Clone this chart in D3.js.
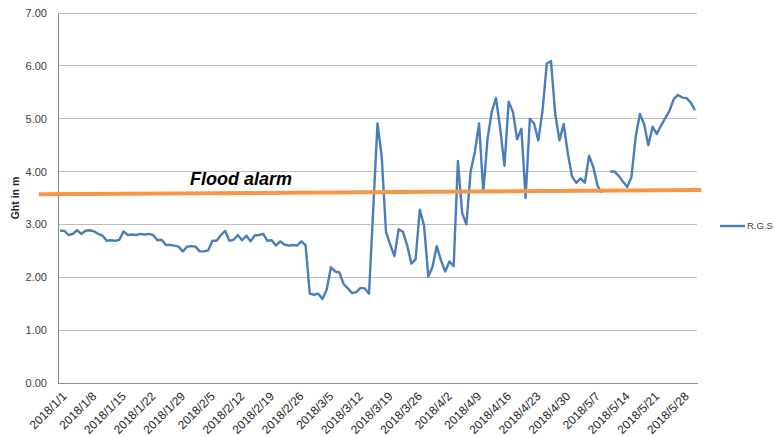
<!DOCTYPE html>
<html>
<head>
<meta charset="utf-8">
<script src="https://cdn.jsdelivr.net/npm/d3@7"></script>
<style>
  body { margin: 0; background: #ffffff; }
  svg { display: block; }
</style>
</head>
<body>
<svg id="chart" width="775" height="437"></svg>
<script>
// Daily river gauge readings (m), 1 Jan – 31 May 2018; null = no reading
const firstDay = "2018-01-01";
const lastDay = "2018-05-31";
const levels = [
  2.88, 2.88, 2.80, 2.82, 2.89, 2.82, 2.88, 2.89, 2.87, 2.82,
  2.79, 2.69, 2.70, 2.69, 2.71, 2.87, 2.80, 2.81, 2.80, 2.82,
  2.81, 2.82, 2.80, 2.70, 2.71, 2.61, 2.61, 2.60, 2.58, 2.49,
  2.58, 2.59, 2.58, 2.49, 2.49, 2.51, 2.69, 2.69, 2.80, 2.88,
  2.69, 2.71, 2.80, 2.70, 2.79, 2.68, 2.79, 2.80, 2.82, 2.69,
  2.70, 2.60, 2.68, 2.62, 2.60, 2.61, 2.60, 2.68, 2.61, 1.69,
  1.67, 1.69, 1.59, 1.77, 2.19, 2.11, 2.09, 1.87, 1.79, 1.70,
  1.72, 1.80, 1.79, 1.69, 3.30, 4.91, 4.28, 2.86, 2.62, 2.40,
  2.91, 2.86, 2.61, 2.26, 2.34, 3.28, 2.98, 2.01, 2.20, 2.59,
  2.32, 2.11, 2.30, 2.21, 4.20, 3.22, 3.00, 4.00, 4.37, 4.91,
  3.61, 4.62, 5.13, 5.39, 4.81, 4.11, 5.32, 5.13, 4.61, 4.81,
  3.50, 5.00, 4.91, 4.59, 5.15, 6.04, 6.09, 5.09, 4.59, 4.90,
  4.33, 3.90, 3.79, 3.87, 3.79, 4.30, 4.08, 3.73, 3.60, null,
  4.00, 4.00, 3.92, 3.81, 3.71, 3.89, 4.65, 5.09, 4.90, 4.50,
  4.85, 4.71, 4.87, 5.01, 5.15, 5.37, 5.45, 5.40, 5.39, 5.31,
  5.16
];
const yTicks = [0, 1, 2, 3, 4, 5, 6, 7];
const labelEveryDays = 7;
const seriesName = "R.G.S";
const yTitle = "Ght in m";

// Flood alarm reference line
const alarmText = "Flood alarm";
const alarmDates = ["2017-12-27", "2018-06-01T12:00"];
const alarmLevels = [3.57, 3.65];
const alarmTextDate = "2018-01-31";

const parse = s => new Date(s + (s.length > 10 ? ":00Z" : "T00:00:00Z"));
const days = d3.utcDay.range(parse(firstDay), d3.utcDay.offset(parse(lastDay), 1));
const data = days.map((d, i) => ({ date: d, value: levels[i] }));

const svg = d3.select("#chart");
const fontFamily = "'Liberation Sans', Arial, sans-serif";
const plot = { left: 58, right: 697, top: 13, bottom: 383 };

const x = d3.scaleTime()
  .domain([d3.utcHour.offset(days[0], -12), d3.utcHour.offset(days[days.length - 1], 12)])
  .range([plot.left, plot.right]);
const y = d3.scaleLinear().domain([0, 7]).range([plot.bottom, plot.top]);

// horizontal gridlines
svg.append("g")
  .selectAll("line")
  .data(yTicks.filter(t => t > 0))
  .join("line")
  .attr("x1", plot.left).attr("x2", plot.right)
  .attr("y1", d => y(d)).attr("y2", d => y(d))
  .attr("stroke", "#bdbdbd").attr("stroke-width", 1)
  .attr("shape-rendering", "crispEdges");

// y axis
const yAxis = svg.append("g")
  .attr("transform", `translate(${plot.left},0)`)
  .call(d3.axisLeft(y).tickValues(yTicks).tickFormat(d3.format(".2f")).tickSize(0).tickPadding(11));
yAxis.select(".domain").attr("stroke", "#8c8c8c").attr("shape-rendering", "crispEdges");
yAxis.selectAll("text").attr("font-family", fontFamily).attr("font-size", 11).attr("fill", "#404040");

// x axis: a label every seven days
const labelDays = days.filter((d, i) => i % labelEveryDays === 0);
const xAxis = svg.append("g")
  .attr("transform", `translate(0,${plot.bottom})`)
  .call(d3.axisBottom(x).tickValues(labelDays).tickSize(0).tickFormat(d3.utcFormat("%Y/%-m/%-d")));
xAxis.select(".domain").attr("stroke", "#8c8c8c").attr("shape-rendering", "crispEdges");
xAxis.selectAll(".tick text")
  .attr("font-family", fontFamily).attr("font-size", 12).attr("fill", "#262626")
  .attr("text-anchor", "end")
  .attr("dy", "0.35em")
  .attr("transform", "translate(4,11) rotate(-45)")
  .attr("y", 0).attr("x", 0);

// y axis title
svg.append("text")
  .attr("transform", `translate(19,${(plot.top + plot.bottom) / 2}) rotate(-90)`)
  .attr("text-anchor", "middle")
  .attr("font-family", fontFamily).attr("font-size", 10.5).attr("font-weight", "bold")
  .attr("fill", "#262626")
  .text(yTitle);

// gauge series
const line = d3.line()
  .defined(d => d.value != null)
  .x(d => x(d.date))
  .y(d => y(d.value));
svg.append("path")
  .datum(data)
  .attr("fill", "none")
  .attr("stroke", "#4a7ebb")
  .attr("stroke-width", 2.4)
  .attr("stroke-linejoin", "round")
  .attr("d", line);

// flood alarm line and label
const alarm = alarmDates.map((d, i) => ({ date: parse(d), value: alarmLevels[i] }));
svg.append("path")
  .datum(alarm)
  .attr("fill", "none")
  .attr("stroke", "#f79646")
  .attr("stroke-width", 4)
  .attr("d", d3.line().x(d => x(d.date)).y(d => y(d.value)));

const alarmAt = d3.scaleTime().domain(alarm.map(d => d.date)).range(alarmLevels);
const tDate = parse(alarmTextDate);
svg.append("text")
  .attr("x", x(tDate) + 3)
  .attr("y", y(alarmAt(tDate)) - 8)
  .attr("font-family", fontFamily).attr("font-size", 18)
  .attr("font-weight", "bold").attr("font-style", "italic")
  .attr("fill", "#000000")
  .text(alarmText);

// legend
const legend = svg.append("g").attr("transform", "translate(720,226)");
legend.append("line")
  .attr("x1", 0).attr("x2", 25).attr("y1", 0).attr("y2", 0)
  .attr("stroke", "#4a7ebb").attr("stroke-width", 2.4);
legend.append("text")
  .attr("x", 27).attr("y", 0).attr("dy", "0.35em")
  .attr("font-family", fontFamily).attr("font-size", 9.5).attr("fill", "#404040")
  .text(seriesName);
</script>
</body>
</html>
